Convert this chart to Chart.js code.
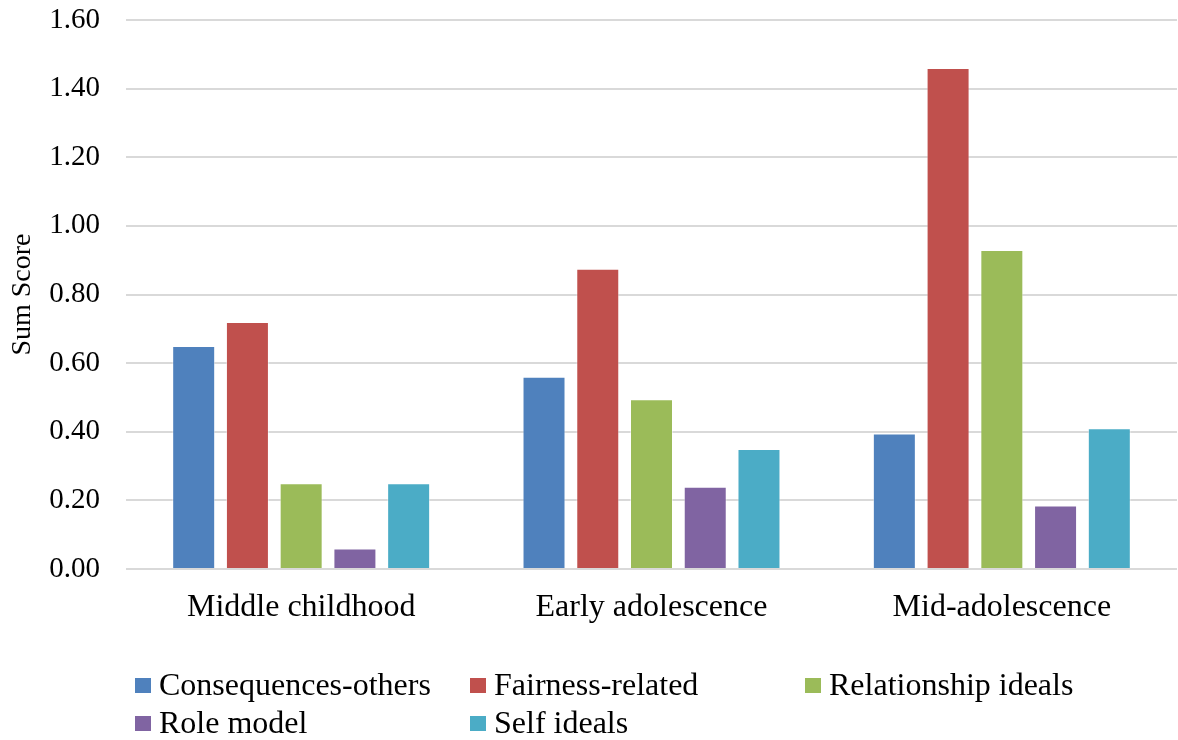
<!DOCTYPE html>
<html>
<head>
<meta charset="utf-8">
<script src="https://cdn.jsdelivr.net/npm/chart.js@4"></script>
<style>
  html, body { margin: 0; padding: 0; background: #fff; }
  #wrap { width: 1178px; height: 740px; position: relative; }
</style>
</head>
<body>
<div id="wrap"><canvas id="c" width="1178" height="740"></canvas></div>
<script>
// Age groups along the x axis
const categories = ['Middle childhood', 'Early adolescence', 'Mid-adolescence'];

// Mean sum scores per justification type
const consequencesOthers = [0.65, 0.56, 0.395];
const fairnessRelated    = [0.72, 0.875, 1.46];
const relationshipIdeals = [0.25, 0.495, 0.93];
const roleModel          = [0.06, 0.24, 0.185];
const selfIdeals         = [0.25, 0.35, 0.41];

const seriesNames  = ['Consequences-others', 'Fairness-related', 'Relationship ideals', 'Role model', 'Self ideals'];
const seriesValues = [consequencesOthers, fairnessRelated, relationshipIdeals, roleModel, selfIdeals];
const seriesColors = ['#4f81bd', '#c0504d', '#9bbb59', '#8064a2', '#4bacc6'];

const FONT = '"Liberation Serif", "Times New Roman", serif';

// Two-row legend laid out in fixed columns under the plot
const gridLegend = {
  id: 'gridLegend',
  afterDraw(chart) {
    const ctx = chart.ctx;
    ctx.save();
    ctx.font = '32px ' + FONT;
    ctx.textBaseline = 'middle';
    ctx.textAlign = 'left';
    chart.data.datasets.forEach((ds, i) => {
      const col = i % 3, row = Math.floor(i / 3);
      const x = 135 + col * 335;
      const y = 685.5 + row * 38;
      ctx.fillStyle = ds.backgroundColor;
      ctx.fillRect(x, y - 7.5, 16, 15);
      ctx.fillStyle = '#000';
      ctx.fillText(ds.label, x + 24, y + 1);
    });
    ctx.restore();
  }
};

new Chart(document.getElementById('c'), {
  type: 'bar',
  data: {
    labels: categories,
    datasets: seriesNames.map((name, i) => ({
      label: name,
      data: seriesValues[i],
      backgroundColor: seriesColors[i],
      borderColor: 'rgba(255,255,255,0.45)',
      borderWidth: 1,
      categoryPercentage: 0.767,
      barPercentage: 0.80
    }))
  },
  options: {
    responsive: false,
    animation: false,
    devicePixelRatio: 1,
    layout: { padding: { top: 20, right: 1, bottom: 114, left: 0 } },
    plugins: {
      legend: { display: false },
      tooltip: { enabled: false }
    },
    scales: {
      x: {
        grid: { display: false, drawTicks: false },
        border: { display: false },
        ticks: {
          color: '#000',
          padding: 19,
          font: { family: FONT, size: 32 },
          maxRotation: 0
        },
        afterFit(scale) { scale.height = 57; }
      },
      y: {
        min: 0,
        max: 1.6,
        grid: { color: '#d9d9d9', lineWidth: 2, drawTicks: false },
        border: { display: false },
        ticks: {
          stepSize: 0.2,
          color: '#000',
          padding: 26,
          font: { family: FONT, size: 29 },
          callback: v => Number(v).toFixed(2)
        },
        title: {
          display: true,
          text: 'Sum Score',
          color: '#000',
          font: { family: FONT, size: 28 },
          padding: { top: 6, bottom: 0 }
        },
        afterFit(scale) {
          scale.width = 126;
          scale.paddingTop = 0;
          scale.paddingBottom = 0;
        }
      }
    }
  },
  plugins: [gridLegend]
});
</script>
</body>
</html>
